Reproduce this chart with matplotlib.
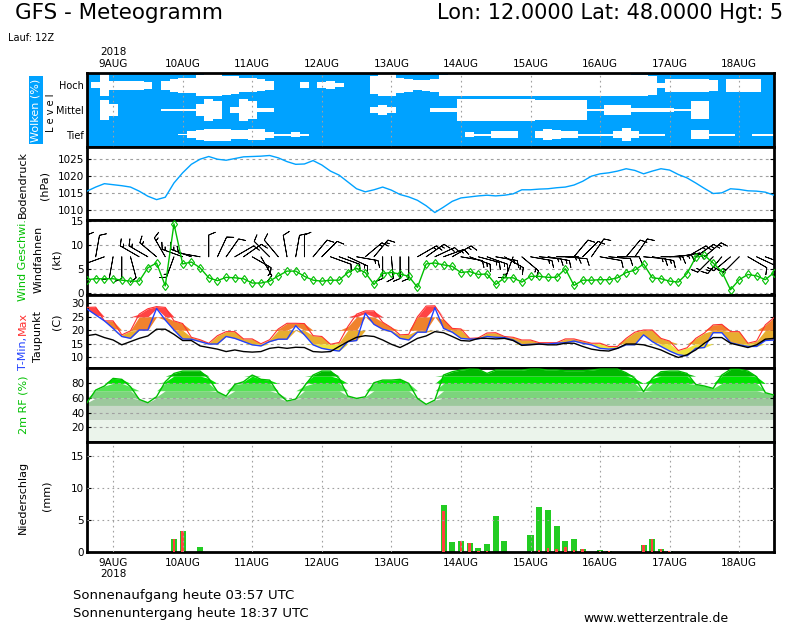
'''
GFS meteogram, Lon 12 Lat 48, run 12Z 8 Aug 2018
clouds / pressure / wind / temperature / rh / precipitation
'''
import numpy as np
import pandas as pd
import matplotlib
matplotlib.use('Agg')
import matplotlib.pyplot as plt

plt.rcParams.update({'font.family': 'DejaVu Sans',
                     'axes.linewidth': 2,
                     'ytick.labelsize': 7.5,
                     'xtick.labelsize': 7.5})

# ---- data, 3-hourly from 8 Aug 15Z ----
times = pd.date_range('2018-08-08 15:00', periods=80, freq='3h')
days = pd.date_range('2018-08-09', periods=10, freq='D')
top_labels = ['2018\n9AUG', '10AUG', '11AUG', '12AUG', '13AUG',
              '14AUG', '15AUG', '16AUG', '17AUG', '18AUG']
bottom_labels = ['9AUG\n2018', '10AUG', '11AUG', '12AUG', '13AUG',
                 '14AUG', '15AUG', '16AUG', '17AUG', '18AUG']

# cloud cover (%) per level
cloud_high = [0, 26, 97, 42, 40, 40, 40, 33, 0, 41, 56, 64, 67, 91, 97, 97, 83, 80, 61, 61,
              53, 38, 0, 0, 0, 26, 0, 26, 35, 18, 0, 0, 0, 79, 97, 97, 67, 60, 45, 50,
              55, 95, 97, 97, 97, 97, 97, 97, 97, 97, 97, 97, 97, 97, 97, 97, 97, 97, 97, 97,
              97, 97, 97, 95, 90, 85, 20, 60, 60, 60, 55, 55, 50, 0, 55, 60, 60, 55, 0, 0]
cloud_mid = [0, 0, 88, 55, 0, 0, 0, 0, 0, 8, 8, 10, 10, 50, 100, 80, 0, 27, 100, 83,
             15, 15, 0, 0, 0, 0, 0, 0, 0, 0, 0, 0, 0, 26, 42, 26, 0, 0, 0, 0,
             15, 15, 20, 95, 95, 95, 95, 95, 95, 95, 95, 95, 90, 90, 90, 90, 90, 90, 10, 10,
             45, 45, 40, 22, 22, 22, 22, 22, 5, 10, 75, 75, 0, 0, 0, 0, 0, 0, 0, 0]
cloud_low = [0, 0, 0, 0, 0, 0, 0, 0, 0, 0, 0, 5, 30, 45, 53, 53, 53, 38, 38, 50,
             50, 26, 8, 8, 23, 8, 0, 0, 0, 0, 0, 0, 0, 0, 0, 0, 0, 0, 0, 0,
             0, 0, 0, 0, 20, 8, 8, 30, 30, 30, 0, 0, 30, 50, 40, 30, 30, 8, 8, 8,
             8, 30, 60, 30, 8, 8, 8, 0, 0, 0, 38, 38, 8, 8, 8, 0, 0, 8, 8, 8]

# surface pressure (hPa)
pressure = [1015.6, 1016.8, 1017.8, 1017.5, 1017.2, 1016.8, 1015.6, 1014.1, 1013.1, 1013.8,
            1018.0, 1021.0, 1023.5, 1025.0, 1025.8, 1025.0, 1024.7, 1025.2, 1025.7, 1025.8,
            1025.9, 1026.1, 1025.4, 1024.3, 1023.5, 1023.6, 1024.6, 1023.3, 1021.5, 1020.3,
            1018.3, 1016.3, 1015.4, 1016.0, 1016.8, 1015.9, 1014.6, 1013.9, 1012.9, 1011.3,
            1009.3, 1010.9, 1012.6, 1013.6, 1013.9, 1014.2, 1014.4, 1014.2, 1014.4, 1014.8,
            1016.0, 1016.0, 1016.2, 1016.3, 1016.6, 1016.8, 1017.4, 1018.5, 1020.0, 1020.7,
            1021.0, 1021.5, 1022.2, 1021.7, 1020.7, 1021.5, 1022.2, 1021.8, 1020.5, 1019.5,
            1018.0, 1016.4, 1014.9, 1015.1, 1016.3, 1016.1, 1015.7, 1015.6, 1015.3, 1014.4]

# wind speed (kt), wind barbs (direction deg, kt)
wind_speed = [2.7, 2.9, 2.9, 2.9, 2.6, 2.4, 2.4, 5.2, 6.2, 1.4,
              14.4, 6.0, 6.4, 5.2, 3.1, 2.5, 3.2, 3.1, 2.9, 2.0,
              2.0, 2.4, 3.5, 4.5, 4.5, 3.4, 2.6, 2.4, 2.6, 2.6,
              4.2, 5.1, 4.2, 1.7, 4.0, 4.2, 3.9, 3.4, 1.1, 6.0,
              6.2, 5.8, 5.5, 4.2, 4.4, 3.8, 3.9, 1.7, 3.1, 3.1,
              2.2, 3.4, 3.4, 3.2, 3.2, 5.0, 1.5, 2.6, 2.6, 2.7,
              2.7, 3.1, 4.2, 4.7, 6.0, 3.1, 2.9, 2.4, 2.2, 4.0,
              7.4, 7.8, 6.2, 4.4, 0.6, 2.7, 3.8, 3.5, 2.7, 4.2]
barb_dir = [0, 10, 250, 190, 180, 165, 300, 300, 310, 330, 200, 290, 290, 280, 0, 25, 35, 60, 55, 120,
            150, 315, 320, 350, 10, 0, 40, 45, 110, 110, 115, 100, 50, 40, 180, 175, 180, 180, 60, 55,
            65, 70, 60, 100, 110, 105, 110, 100, 120, 200, 130, 100, 95, 100, 90, 95, 40, 45, 35, 100,
            95, 90, 40, 35, 95, 100, 90, 85, 80, 60, 55, 50, 225, 220, 230, 225, 120, 115, 110, 100]
barb_kt = [10, 10, 5, 10, 10, 10, 15, 15, 15, 15, 15, 15, 15, 10, 10, 10, 10, 10, 10, 15,
           15, 10, 10, 10, 10, 10, 10, 10, 10, 10, 15, 15, 15, 15, 10, 10, 10, 10, 15, 15,
           15, 15, 15, 10, 15, 15, 15, 15, 15, 15, 15, 15, 15, 15, 15, 10, 10, 10, 10, 10,
           10, 10, 10, 10, 15, 15, 15, 15, 15, 15, 15, 15, 15, 15, 15, 15, 10, 10, 10, 10]

# temperature (C)
t_max = [28.5, 28.6, 23.5, 23.5, 18.3, 19.8, 26.0, 28.0, 28.8, 28.5, 23.5, 22.5, 17.4, 16.5, 15.2, 18.0,
         19.5, 19.5, 16.8, 16.8, 15.0, 16.5, 20.5, 22.6, 22.6, 22.5, 18.0, 17.7,
         14.8, 15.5, 21.4, 26.0, 27.2, 27.2, 23.0, 21.0, 18.3, 18.5, 25.0, 29.0, 29.1, 24.0,
         20.7, 20.5, 17.0, 17.2, 19.0, 19.1, 17.7, 17.4, 16.4, 16.4, 15.4, 15.4,
         15.4, 16.8, 16.8, 16.0, 15.2, 15.2, 14.0, 14.0, 17.0, 19.3, 20.1, 20.1, 17.0, 16.0,
         12.5, 13.5, 17.0, 19.0, 22.0, 22.2, 19.5, 19.5, 15.2, 16.0, 22.0, 24.7]
t_min = [27.9, 25.7, 23.5, 20.7, 17.7, 17.0, 20.1, 20.1, 28.1, 23.8, 20.1, 16.8, 16.7, 15.8, 14.9, 14.9,
         17.7, 17.0, 15.8, 14.6, 14.2, 15.8, 16.7, 16.7, 21.7, 18.3, 14.6, 13.3,
         12.7, 12.3, 15.8, 16.2, 26.3, 22.2, 20.4, 19.5, 17.0, 16.4, 19.3, 19.3, 28.4, 20.7,
         19.3, 17.0, 16.7, 16.8, 17.7, 17.4, 17.3, 16.4, 14.6, 14.8, 14.9, 14.9,
         15.2, 15.4, 16.0, 15.2, 14.6, 13.3, 13.0, 13.3, 14.6, 14.6, 18.3, 15.8, 14.0, 12.3,
         10.9, 10.5, 13.3, 13.6, 19.1, 19.1, 15.4, 14.6, 14.0, 14.0, 16.2, 16.4]
dewpoint = [18.0, 18.5, 17.3, 16.4, 14.6, 15.8, 17.0, 17.9, 20.4, 20.4, 18.5, 16.2, 16.2, 14.2, 13.6, 13.0,
            12.1, 12.7, 12.1, 11.9, 12.1, 13.3, 13.7, 13.3, 13.7, 13.6, 12.1, 11.9,
            12.1, 14.0, 15.8, 17.4, 18.0, 17.7, 16.4, 14.8, 13.6, 15.2, 17.0, 17.9, 19.5, 19.1,
            17.7, 16.2, 16.0, 17.0, 17.0, 16.8, 17.0, 16.2, 14.4, 14.6, 14.9, 14.6,
            14.6, 15.2, 15.2, 14.0, 13.0, 12.5, 12.3, 13.3, 14.9, 14.9, 14.6, 13.7, 12.7, 11.2,
            9.9, 10.9, 12.7, 15.2, 17.3, 17.3, 15.2, 14.4, 13.6, 14.6, 16.7, 17.0]

# 2m relative humidity (%)
rh = [53.6, 70.9, 76.4, 86.8, 85.5, 75.5, 58.2, 53.6, 61.8, 82.3, 93.6, 96.8, 96.8, 96.8, 86.8, 68.6,
      62.7, 78.6, 82.3, 91.4, 85.5, 84.5, 66.4, 55.9, 58.6, 76.4, 91.4, 96.8, 96.8, 86.8, 62.7, 59.5,
      61.8, 80.9, 84.5, 84.5, 85.5, 80.0, 59.5, 51.4, 57.3, 91.4, 95.9, 98.2, 99.5, 99.1, 93.6, 98.2,
      98.2, 98.2, 98.2, 99.5, 99.5, 98.2, 98.2, 97.3, 97.3, 97.3, 98.2, 99.5, 99.5, 99.5, 94.5, 86.8,
      68.6, 86.8, 95.9, 96.8, 96.8, 93.6, 78.6, 76.4, 73.2, 91.4, 99.1, 99.1, 96.8, 89.1, 67.3, 64.1]

# precipitation per 3h (mm): total and convective
precip_total = [0, 0, 0, 0, 0, 0, 0, 0, 0, 0, 2.1, 3.3, 0, 0.8, 0, 0, 0, 0, 0, 0,
                0, 0, 0, 0, 0, 0, 0, 0, 0, 0, 0, 0, 0, 0, 0, 0, 0, 0, 0, 0,
                0, 7.4, 1.6, 1.7, 1.4, 0.6, 1.3, 5.7, 1.7, 0, 0, 2.7, 7.1, 6.5, 4.1, 1.7, 2.0, 0.5, 0, 0.3,
                0.15, 0.05, 0, 0, 1.1, 2.0, 0.5, 0.15, 0, 0, 0, 0, 0, 0, 0, 0, 0, 0, 0, 0]
precip_conv = [0, 0, 0, 0, 0, 0, 0, 0, 0, 0, 2.1, 3.3, 0, 0, 0, 0, 0, 0, 0, 0,
               0, 0, 0, 0, 0, 0, 0, 0, 0, 0, 0, 0, 0, 0, 0, 0, 0, 0, 0, 0,
               0, 6.35, 0, 1.7, 1.4, 0.2, 0.2, 0, 0, 0, 0, 0, 0.3, 0.6, 0.5, 0.8, 0.3, 0.5, 0, 0.2,
               0.15, 0.05, 0, 0, 1.1, 2.0, 0.5, 0.15, 0, 0, 0, 0, 0, 0, 0, 0, 0, 0, 0, 0]

# ---- layout helpers (pixel positions on 800x625) ----
FW, FH = 800, 625
L, R = 87, 774
fig = plt.figure(figsize=(8, 6.25), dpi=100)


def panel(top, bottom):
    return fig.add_axes([L / FW, 1 - bottom / FH, (R - L) / FW, (bottom - top) / FH])


def ftext(x, y, s, **kw):
    return fig.text(x / FW, 1 - y / FH, s, **kw)


grid_col = '#a0a0a0'
hgrid = dict(color=grid_col, ls=(0, (2.5, 3)), lw=0.8)
vgrid = dict(color=grid_col, ls=(0, (1.5, 3)), lw=0.8)
x0, x1 = times[0], times[-1]
step = 0.125  # days between forecast steps


def style(ax, yticks):
    ax.set_xlim(x0, x1)
    ax.set_yticks(yticks)
    ax.tick_params(axis='y', direction='in', length=3, right=True, pad=2)
    ax.tick_params(axis='x', length=0, labelbottom=False)
    ax.set_xticks(days)
    for y in yticks:
        ax.axhline(y, zorder=1, **hgrid)


# clouds: white block per step, height proportional to cover
ax_c = panel(73, 147)
ax_c.set_facecolor('#00a2ff')
for level, cover in zip([2.5, 1.5, 0.5], [cloud_high, cloud_mid, cloud_low]):
    half = np.array(cover, dtype=float) / 100 * 0.46
    ax_c.bar(times, 2 * half, bottom=level - half, width=step * 1.02,
             color='white', lw=0, zorder=2)
ax_c.set_xlim(x0, x1)
ax_c.set_ylim(0, 3)
ax_c.set_xticks(days)
ax_c.set_xticklabels(top_labels)
ax_c.xaxis.tick_top()
ax_c.tick_params(axis='x', length=0, pad=3)
ax_c.set_yticks([2.5, 1.5, 0.5])
ax_c.set_yticklabels(['Hoch', 'Mittel', 'Tief'], fontsize=7)
ax_c.tick_params(axis='y', length=0, pad=2)
for d in days:
    ax_c.axvline(d, zorder=3, **vgrid)

# pressure
ax_p = panel(147, 220)
ax_p.plot(times, pressure, color='#00a2ff', lw=1, zorder=3)
ax_p.set_ylim(1007.1, 1028.6)
style(ax_p, [1010, 1015, 1020, 1025])

# wind
ax_w = panel(220, 295)
ax_w.plot(times, wind_speed, color='#00c000', lw=1, marker='d', ms=4.5, mfc='none', mec='#00c000',
          mew=0.8, zorder=4)
bdir = np.radians(barb_dir)
bkt = np.array(barb_kt, dtype=float)
ax_w.barbs(matplotlib.dates.date2num(times), np.full(len(times), 7.5),
           -bkt * np.sin(bdir), -bkt * np.cos(bdir), length=5.6, pivot='tip',
           color='black', linewidth=0.6, sizes=dict(emptybarb=0, height=0.3, spacing=0.15),
           zorder=3)
ax_w.set_ylim(-0.5, 15.2)
style(ax_w, [0, 5, 10, 15])

# temperature
ax_t = panel(295, 368)
tmin_a, tmax_a = np.array(t_min), np.array(t_max)
for lo, hi, c in [(-40, 15, '#efe23c'), (15, 20, '#e8ad30'), (20, 25, '#f0822d'), (25, 50, '#ff4444')]:
    ax_t.fill_between(times, np.clip(tmin_a, lo, hi), np.clip(tmax_a, lo, hi), color=c, lw=0, zorder=2)
ax_t.plot(times, t_max, color='#ff3030', lw=0.8, zorder=3)
ax_t.plot(times, t_min, color='#2040ff', lw=1, zorder=3)
ax_t.plot(times, dewpoint, color='black', lw=1, zorder=3)
ax_t.set_ylim(6, 33.1)
style(ax_t, [10, 15, 20, 25, 30])

# relative humidity
ax_r = panel(368, 442)
rh_a = np.array(rh)
rh_bands = [(0, 30, '#ebf4eb'), (30, 50, '#c8d8c8'), (50, 60, '#9cc89c'), (60, 70, '#7cd47c'),
            (70, 80, '#55e355'), (80, 90, '#00e400'), (90, 101, '#00b800')]
for lo, hi, c in rh_bands:
    ax_r.fill_between(times, lo, np.clip(rh_a, lo, hi), color=c, lw=0, zorder=0)
ax_r.plot(times, rh, color='#00c000', lw=1, zorder=3)
ax_r.set_ylim(0, 101)
style(ax_r, [20, 40, 60, 80])

# precipitation
ax_n = panel(442, 552)
ax_n.bar(times, precip_total, width=step * 0.7, color='#22cc22', zorder=2)
ax_n.bar(times, precip_conv, width=step * 0.28, color='#ff4040', zorder=3)
ax_n.set_xlim(x0, x1)
ax_n.set_ylim(0, 17.2)
ax_n.set_yticks([0, 5, 10, 15])
ax_n.tick_params(axis='y', direction='in', length=3, right=True, pad=2)
ax_n.set_xticks(days)
ax_n.set_xticklabels(bottom_labels, va='top')
ax_n.tick_params(axis='x', length=0, pad=4)
for y in [5, 10, 15]:
    ax_n.axhline(y, zorder=4, **vgrid)
for d in days:
    ax_n.axvline(d, zorder=4, **vgrid)

# ---- texts ----
ftext(15, 3, 'GFS - Meteogramm', fontsize=15.5, va='top')
ftext(437, 3, 'Lon: 12.0000 Lat: 48.0000 Hgt: 5', fontsize=15, va='top')
ftext(8, 38, 'Lauf: 12Z', fontsize=7, va='center')

lab = dict(rotation=90, ha='center', va='center', fontsize=8)
ftext(36, 110, 'Wolken (%)', color='white',
      bbox=dict(facecolor='#00a2ff', edgecolor='none', pad=1.5), **lab)
ftext(51, 113, 'L e v e l', rotation=90, ha='center', va='center', fontsize=7)
ftext(23, 185, 'Bodendruck', **lab)
ftext(45, 185, '(hPa)', **lab)
ftext(23, 260, 'Wind Geschwi.', color='#00c000', **lab)
ftext(39, 259, 'Windfahnen', **lab)
ftext(57, 259, '(kt)', **lab)
ftext(23, 353, 'T-Min,', color='#2040ff', **lab)
ftext(23, 323, 'Max', color='#ff3030', **lab)
ftext(38, 337, 'Taupunkt', **lab)
ftext(57, 322, '(C)', **lab)
ftext(23, 405, '2m RF (%)', color='#00c000', **lab)
ftext(23, 497, 'Niederschlag', **lab)
ftext(46, 496, '(mm)', **lab)

ftext(73, 596, 'Sonnenaufgang heute 03:57 UTC', fontsize=9.5, va='center')
ftext(73, 613, 'Sonnenuntergang heute 18:37 UTC', fontsize=9.5, va='center')
ftext(583, 618, 'www.wetterzentrale.de', fontsize=9, va='center')

plt.savefig('out.png', dpi=100)
